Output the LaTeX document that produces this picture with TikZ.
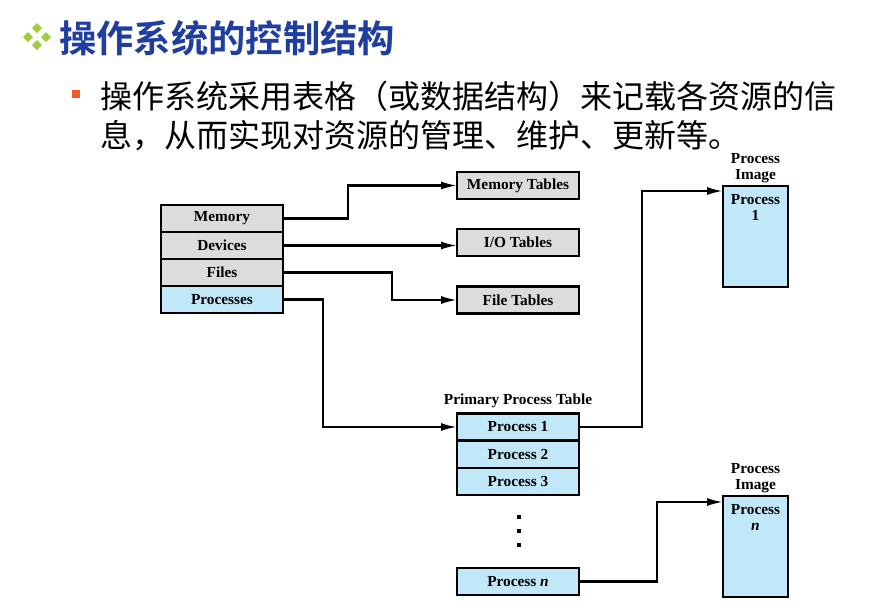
\documentclass[tikz,border=0pt]{standalone}
\usepackage{fontspec}
\setmainfont{Liberation Serif}
\newfontfamily\cjk{Noto Sans CJK SC}
\newfontfamily\cjkbold{Noto Sans CJK SC Bold}
\usetikzlibrary{arrows.meta}
\definecolor{titleblue}{RGB}{32,62,160}
\definecolor{leafgreen}{RGB}{160,205,60}
\definecolor{bulletorange}{RGB}{240,90,40}
\definecolor{cellgray}{RGB}{220,220,220}
\definecolor{cellblue}{RGB}{192,232,248}
\tikzset{
  cell/.style={draw=black, line width=1.6pt, inner sep=0pt, outer sep=0pt,
    minimum width=91.5pt, minimum height=20.25pt,
    font=\fontsize{11.5}{13}\selectfont\bfseries},
  graycell/.style={cell, fill=cellgray},
  bluecell/.style={cell, fill=cellblue},
  imagebox/.style={draw=black, line width=1.6pt, fill=cellblue, inner sep=0pt,
    outer sep=0pt, minimum width=48.75pt, minimum height=75.75pt},
  boxtext/.style={font=\fontsize{11.5}{12}\selectfont\bfseries, align=center,
    inner sep=0pt},
  link/.style={line width=1.6pt, -{Latex[length=12pt,width=6pt]}},
  leaf/.style={fill=leafgreen, draw=none},
  dot/.style={fill=black, draw=none, minimum size=3pt, inner sep=0pt}
}
\begin{document}
\begin{tikzpicture}[x=0.75pt, y=-0.75pt]
\useasboundingbox (0,0) rectangle (875,611);
\fill[white] (0,0) rectangle (875,611);

% heading with its four-leaf marker
\foreach \cx/\cy in {37/28, 28/37, 46/37, 37/45}
  \fill[leaf] (\cx,\cy-5) -- (\cx+5,\cy) -- (\cx,\cy+5) -- (\cx-5,\cy) -- cycle;
\node[anchor=west, inner sep=0pt, text=titleblue,
      font=\cjkbold\fontsize{28}{34}\selectfont] (title) at (59,38)
  {操作系统的控制结构};

% bullet point
\fill[bulletorange] (72,90) rectangle (80,98);
\node[anchor=west, inner sep=0pt, text=black,
      font=\cjk\fontsize{24}{30}\selectfont] (line1) at (100,96)
  {操作系统采用表格（或数据结构）来记载各资源的信};
\node[anchor=west, inner sep=0pt, text=black,
      font=\cjk\fontsize{24}{30}\selectfont] (line2) at (100,136)
  {息，从而实现对资源的管理、维护、更新等。};

% resource table
\node[graycell] (mem)   at (222,218.5) {Memory};
\node[graycell] (dev)   at (222,245.5) {Devices};
\node[graycell] (files) at (222,272.5) {Files};
\node[bluecell] (procs) at (222,299.5) {Processes};

% per-resource tables
\node[graycell] (memtab)  at (518,185.5) {Memory Tables};
\node[graycell] (iotab)   at (518,242.5) {I/O Tables};
\node[graycell] (filetab) at (518,300)   {File Tables};

% primary process table
\node[boxtext] (ptlabel) at (518,401) {Primary Process Table};
\node[bluecell] (p1) at (518,427)   {Process 1};
\node[bluecell] (p2) at (518,454.5) {Process 2};
\node[bluecell] (p3) at (518,481.5) {Process 3};
\node[dot] (d1) at (519,517) {};
\node[dot] (d2) at (519,531) {};
\node[dot] (d3) at (519,545) {};
\node[bluecell] (pn) at (518,581.5) {Process \textit{n}};

% process images
\node[boxtext] (img1label) at (755.5,168) {Process\\Image};
\node[imagebox] (img1) at (755.5,236.5) {};
\node[boxtext, anchor=north] (img1text) at (755.5,194) {Process\\1};
\node[boxtext] (imgnlabel) at (755.5,478) {Process\\Image};
\node[imagebox] (imgn) at (755.5,546.5) {};
\node[boxtext, anchor=north] (imgntext) at (755.5,504) {Process\\\textit{n}};

% connectors
\draw[link] (mem.east) -- ++(65,0) |- (memtab.west);
\draw[link] (dev.east) -- (dev.east -| iotab.west);
\draw[link] (files.east) -- ++(109,0) |- (filetab.west);
\draw[link] (procs.east) -- ++(40,0) |- (p1.west);
\draw[link] (p1.east) -- ++(63,0) |- ([yshift=-3.75pt]img1.north west);
\draw[link] (pn.east) -- ++(78,0) |- ([yshift=-4.5pt]imgn.north west);
\end{tikzpicture}
\end{document}
